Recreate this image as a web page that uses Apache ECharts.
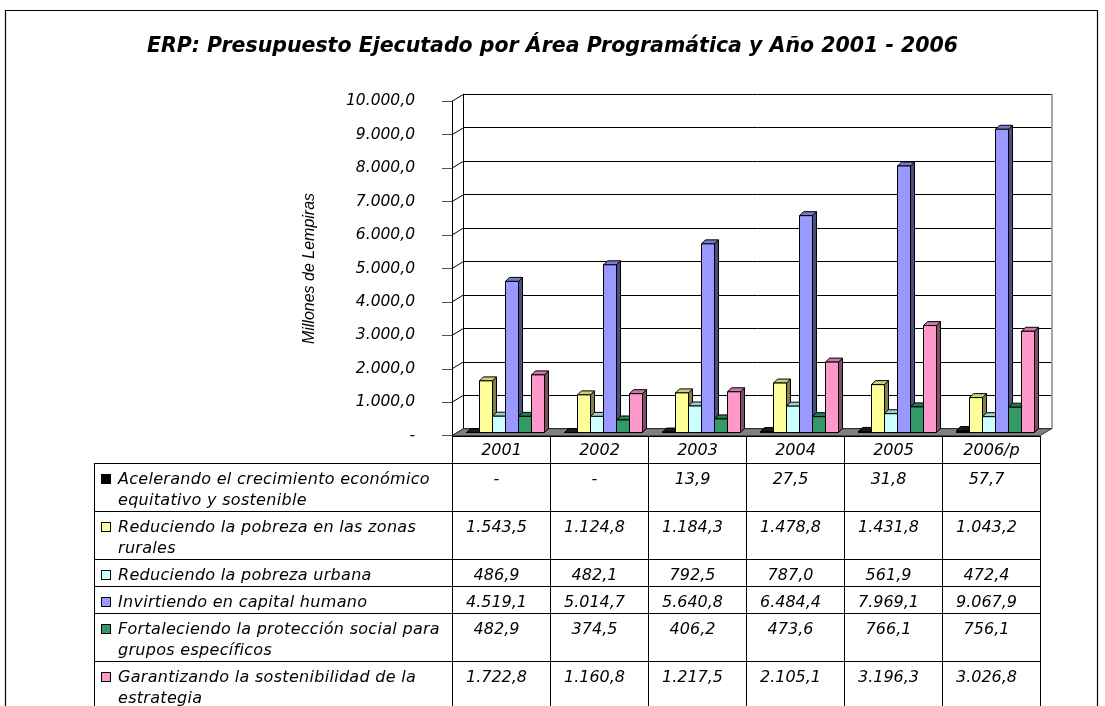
<!DOCTYPE html>
<html><head><meta charset="utf-8">
<script src="https://cdn.jsdelivr.net/npm/echarts@6/dist/echarts.min.js"></script>
<style>
html,body{margin:0;padding:0;background:#fff;}
#wrap{position:relative;width:1105px;height:706px;overflow:hidden;background:#fff;}
#chart{position:absolute;left:0;top:0;width:1105px;height:706px;}
#tbl{position:absolute;left:94px;top:436px;border-collapse:collapse;table-layout:fixed;
  font-family:"DejaVu Sans",sans-serif;font-style:italic;font-size:16px;color:#000;}
#tbl td{border:1px solid #000;padding:4px 0 1px 0;line-height:21px;vertical-align:top;white-space:pre;}
#tbl tr.hd td{padding:2px 0 3px 0;text-align:center;}
#tbl tr.hd td.blank{border-top:none;border-left:none;}
#tbl td.val{text-align:center;padding-right:10px;}
#tbl td.lab{padding-left:6px;letter-spacing:0.3px;}
.lw{display:flex;align-items:flex-start;}
.mk{display:inline-block;width:8px;height:8px;border:1px solid #000;margin-top:6px;margin-right:7px;flex:none;}
</style>
</head><body>
<div id="wrap"><div id="chart"></div><table id="tbl"></table></div>
<script>
// ---- data ----
const years = ['2001', '2002', '2003', '2004', '2005', '2006/p'];
const areaNames = [
  'Acelerando el crecimiento económico\nequitativo y sostenible',
  'Reduciendo la pobreza en las zonas\nrurales',
  'Reduciendo la pobreza urbana',
  'Invirtiendo en capital humano',
  'Fortaleciendo la protección social para\ngrupos específicos',
  'Garantizando la sostenibilidad de la\nestrategia'
];
const acelerando = [0, 0, 13.9, 27.5, 31.8, 57.7];
const pobrezaRural = [1543.5, 1124.8, 1184.3, 1478.8, 1431.8, 1043.2];
const pobrezaUrbana = [486.9, 482.1, 792.5, 787.0, 561.9, 472.4];
const capitalHumano = [4519.1, 5014.7, 5640.8, 6484.4, 7969.1, 9067.9];
const proteccionSocial = [482.9, 374.5, 406.2, 473.6, 766.1, 756.1];
const sostenibilidad = [1722.8, 1160.8, 1217.5, 2105.1, 3196.3, 3026.8];
const yTicks = [0, 1000, 2000, 3000, 4000, 5000, 6000, 7000, 8000, 9000, 10000];
const yTickLabels = ['-', '1.000,0', '2.000,0', '3.000,0', '4.000,0', '5.000,0', '6.000,0', '7.000,0', '8.000,0', '9.000,0', '10.000,0'];
const titleText = 'ERP: Presupuesto Ejecutado por Área Programática y Año 2001 - 2006';
const yName = 'Millones de Lempiras';

const seriesValues = [acelerando, pobrezaRural, pobrezaUrbana, capitalHumano, proteccionSocial, sostenibilidad];

// ---- styles ----
const faces = [
  {front:'#000000', side:'#000000', top:'#1a1a1a'},
  {front:'#FFFF99', side:'#80804D', top:'#CCCC7A'},
  {front:'#CCFFFF', side:'#668080', top:'#A3CCCC'},
  {front:'#9999FF', side:'#4D4D80', top:'#7A7ACC'},
  {front:'#339966', side:'#1A4D33', top:'#297A52'},
  {front:'#FF99CC', side:'#804D66', top:'#CC7AA3'}
];
const DX = 11.5, DY = -7;   // depth of the 3D walls

function fmt(v){
  if (v === 0) return '-';
  const p = v.toFixed(1).split('.');
  return p[0].replace(/\B(?=(\d{3})+(?!\d))/g, '.') + ',' + p[1];
}

// ---- table ----
(function(){
  const t = document.getElementById('tbl');
  let h = '<colgroup><col style="width:358px">' + years.map(()=>'<col style="width:98px">').join('') + '</colgroup>';
  h += '<tr class="hd"><td class="blank"></td>' + years.map(y=>'<td>'+y+'</td>').join('') + '</tr>';
  seriesValues.forEach((arr, k)=>{
    h += '<tr><td class="lab"><div class="lw"><span class="mk" style="background:'+faces[k].front+'"></span><span>'+areaNames[k]+'</span></div></td>';
    h += arr.map(v=>'<td class="val">'+fmt(v)+'</td>').join('') + '</tr>';
  });
  t.innerHTML = h;
})();

// ---- chart ----
const chart = echarts.init(document.getElementById('chart'), null, {renderer:'canvas'});

function barRenderer(k){
  return function(params, api){
    const i = api.value(0), v = api.value(1);
    const b = api.coord([i, 0]), t = api.coord([i, v]);
    const cw = api.size([1, 0])[0];
    const bw = cw * 13 / 98;
    const x0 = b[0] - 3 * bw + k * bw + 4.5;
    const x1 = x0 + bw;
    const yb = b[1] - 3.2, yt = t[1] - 3.2;
    const dx = 4, dy = -4;
    const c = faces[k];
    return {type:'group', children:[
      {type:'polygon', shape:{points:[[x1,yb],[x1+dx,yb+dy],[x1+dx,yt+dy],[x1,yt]]}, style:{fill:c.side, stroke:'#000', lineWidth:1}},
      {type:'polygon', shape:{points:[[x0,yt],[x1,yt],[x1+dx,yt+dy],[x0+dx,yt+dy]]}, style:{fill:c.top, stroke:'#000', lineWidth:1}},
      {type:'rect', shape:{x:x0, y:yt, width:bw, height:Math.max(0, yb-yt)}, style:{fill:c.front, stroke:'#000', lineWidth:1}}
    ]};
  };
}

const barSeries = seriesValues.map((arr, k)=>({
  type:'custom', name: areaNames[k].replace('\n',' '), xAxisIndex:0, yAxisIndex:0,
  renderItem: barRenderer(k), z: 5,
  encode:{x:0, y:1},
  data: arr.map((v, i)=>[i, v])
}));

const option = {
  animation:false,
  backgroundColor:'#fff',
  title:{
    text:titleText, left:'center', top:37, padding:0,
    textStyle:{fontFamily:'DejaVu Sans', fontSize:20.5, fontWeight:'bold', fontStyle:'italic', color:'#000'}
  },
  graphic:[{type:'rect', shape:{x:5.5, y:10.5, width:1092, height:720}, style:{fill:'none', stroke:'#000', lineWidth:1.2}, z:-10}],
  grid:[
    {left:452, top:101.3, width:588, height:334.4},
    {left:452+DX, top:101.3+DY, width:588, height:334.4}
  ],
  xAxis:[
    {type:'category', gridIndex:0, data:years, boundaryGap:true, show:false},
    {type:'category', gridIndex:1, data:years, boundaryGap:true, show:false}
  ],
  yAxis:[
    {type:'value', gridIndex:0, min:0, max:10000, interval:1000,
      name:yName, nameLocation:'middle', nameGap:134, nameRotate:90,
      nameTextStyle:{fontFamily:'Liberation Sans', fontStyle:'italic', fontSize:16, color:'#000'},
      axisLine:{show:true, lineStyle:{color:'#000', width:1}},
      axisTick:{show:true, inside:false, length:10, lineStyle:{color:'#555'}},
      axisLabel:{margin:37, fontFamily:'DejaVu Sans', fontStyle:'italic', fontSize:15.5, color:'#000',
        formatter:(v)=>yTickLabels[yTicks.indexOf(v)]},
      splitLine:{show:false}},
    {type:'value', gridIndex:1, min:0, max:10000, interval:1000,
      axisLine:{show:true, lineStyle:{color:'#000'}}, axisTick:{show:false}, axisLabel:{show:false},
      splitLine:{show:true, lineStyle:{color:'#000', width:1}}},
    {type:'value', gridIndex:1, position:'right', min:0, max:10000, interval:1000,
      axisLine:{show:true, lineStyle:{color:'#888', width:1.5}}, axisTick:{show:false}, axisLabel:{show:false},
      splitLine:{show:false}}
  ],
  series:[
    {type:'custom', xAxisIndex:0, yAxisIndex:0, z:3, silent:true,
      data: yTicks.map(v=>[0, v]), encode:{x:0, y:1},
      renderItem:(params, api)=>{
        const p = api.coord([0, api.value(1)]);
        const cw = api.size([1,0])[0];
        const x = p[0] - cw/2;
        return {type:'line', shape:{x1:x, y1:p[1], x2:x+DX, y2:p[1]+DY}, style:{stroke:'#000', lineWidth:1}};
      }},
    {type:'custom', xAxisIndex:0, yAxisIndex:0, z:3, silent:true,
      data:[[0, 0]], encode:{x:0, y:1},
      renderItem:(params, api)=>{
        const cw = api.size([1,0])[0];
        const a = api.coord([0, 0]), b = api.coord([years.length-1, 0]);
        const xl = a[0]-cw/2, xr = b[0]+cw/2, y = a[1];
        return {type:'polygon', shape:{points:[[xl,y],[xr,y],[xr+DX,y+DY],[xl+DX,y+DY]]},
          style:{fill:'#808080', stroke:'#333', lineWidth:1}};
      }}
  ].concat(barSeries)
};
chart.setOption(option);
</script>
</body></html>
